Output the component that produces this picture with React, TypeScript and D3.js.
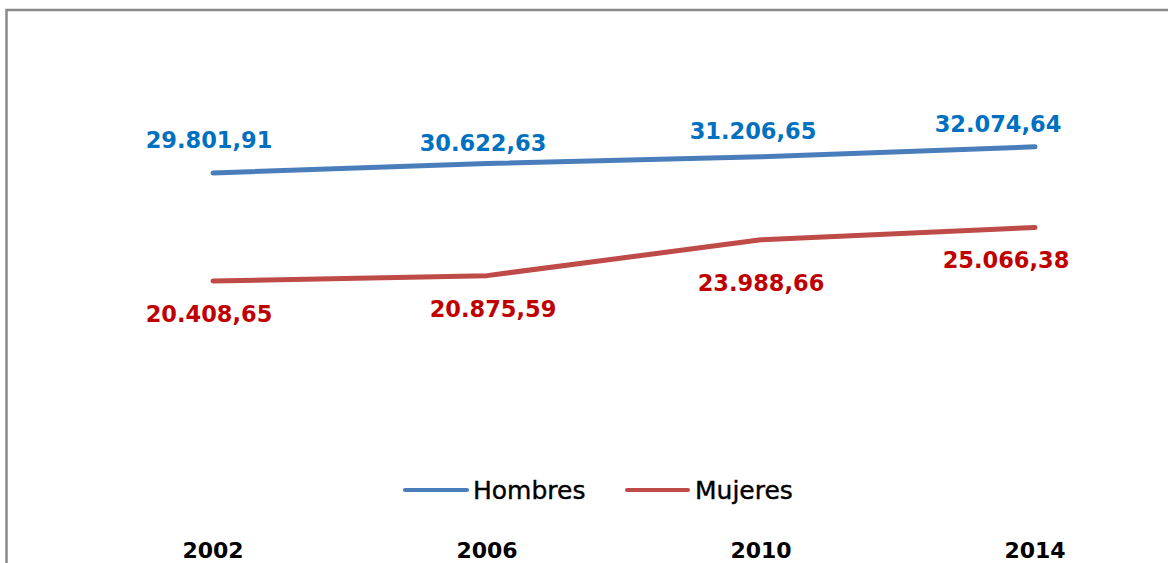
import React from "react";
import * as d3 from "d3";

const years = ["2002", "2006", "2010", "2014"];
const hombres = [29801.91, 30622.63, 31206.65, 32074.64];
const mujeres = [20408.65, 20875.59, 23988.66, 25066.38];
const hombresLabels = ["29.801,91", "30.622,63", "31.206,65", "32.074,64"];
const mujeresLabels = ["20.408,65", "20.875,59", "23.988,66", "25.066,38"];
const seriesNames = ["Hombres", "Mujeres"];

// label offsets relative to the point (layout, not data)
const hLabelOffset = [[-4, -33], [-4, -21], [-8, -26], [-37, -23]];
const mLabelOffset = [[-4, 33], [6, 33], [0, 43], [-29, 32]];

const W = 1168;
const H = 563;
const BLUE = "#4a7ebb";
const RED = "#be4b48";
const BLUE_T = "#0070c0";
const RED_T = "#c00000";
const FONT = "'DejaVu Sans', sans-serif";

export default function App() {
  const x = d3.scalePoint<string>().domain(years).range([213, 1035]);
  const y = d3.scaleLinear().domain([0, 40000]).range([515.7, 55.7]);
  const line = d3
    .line<number>()
    .x((_, i) => x(years[i]) as number)
    .y((d) => y(d));

  return (
    <svg
      width={W}
      height={H}
      style={{ position: "absolute", left: 0, top: 0, background: "#fff" }}
    >
      <rect x={0} y={0} width={W} height={H} fill="#fff" />
      <rect x={6.5} y={10} width={W + 20} height={H + 20} fill="none" stroke="#8a8a8a" strokeWidth={2.5} />
      <path d={line(hombres) || ""} fill="none" stroke={BLUE} strokeWidth={5} strokeLinecap="round" strokeLinejoin="round" />
      <path d={line(mujeres) || ""} fill="none" stroke={RED} strokeWidth={5} strokeLinecap="round" strokeLinejoin="round" />
      {hombres.map((v, i) => (
        <text
          key={"h" + i}
          x={(x(years[i]) as number) + hLabelOffset[i][0]}
          y={y(v) + hLabelOffset[i][1]}
          dy="0.36em"
          textAnchor="middle"
          fontFamily={FONT}
          fontWeight="bold"
          fontSize={22.5}
          fill={BLUE_T}
        >
          {hombresLabels[i]}
        </text>
      ))}
      {mujeres.map((v, i) => (
        <text
          key={"m" + i}
          x={(x(years[i]) as number) + mLabelOffset[i][0]}
          y={y(v) + mLabelOffset[i][1]}
          dy="0.36em"
          textAnchor="middle"
          fontFamily={FONT}
          fontWeight="bold"
          fontSize={22.5}
          fill={RED_T}
        >
          {mujeresLabels[i]}
        </text>
      ))}
      {/* legend */}
      <g>
        <line x1={405} x2={467} y1={490} y2={490} stroke={BLUE} strokeWidth={4} strokeLinecap="round" />
        <text x={473} y={490} dy="0.36em" fontFamily={FONT} fontSize={25} fill="#000" stroke="#000" strokeWidth={0.4}>
          {seriesNames[0]}
        </text>
        <line x1={627} x2={688} y1={490} y2={490} stroke={RED} strokeWidth={4} strokeLinecap="round" />
        <text x={695} y={490} dy="0.36em" fontFamily={FONT} fontSize={25} fill="#000" stroke="#000" strokeWidth={0.4}>
          {seriesNames[1]}
        </text>
      </g>
      {years.map((yr) => (
        <text
          key={yr}
          x={x(yr) as number}
          y={550}
          dy="0.36em"
          textAnchor="middle"
          fontFamily={FONT}
          fontWeight="bold"
          fontSize={22}
          fill="#000"
        >
          {yr}
        </text>
      ))}
    </svg>
  );
}
